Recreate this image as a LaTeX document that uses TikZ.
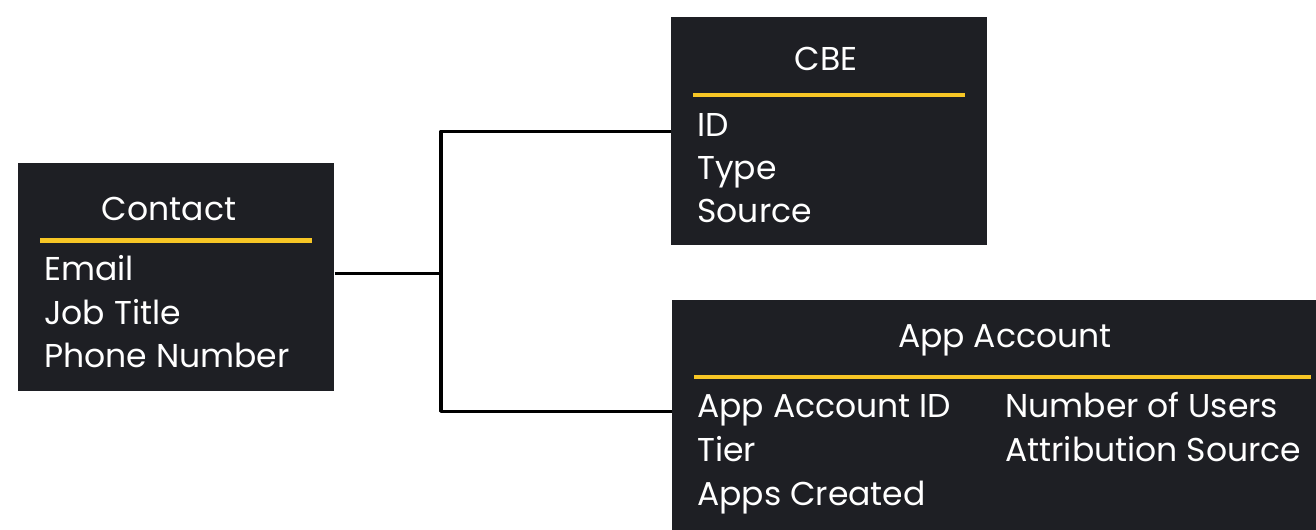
\documentclass[tikz,border=0pt]{standalone}
\usepackage{fontspec}
\setmainfont{Poppins}
\definecolor{boxbg}{HTML}{1E1F24}
\definecolor{barline}{HTML}{F7C625}
\begin{document}
\begin{tikzpicture}[x=0.02cm, y=-0.02cm, line join=round, font=\fontsize{18.8}{22}\selectfont,
	box/.style={fill=boxbg, inner sep=0pt, anchor=north west},
	title/.style={text=white, anchor=base, inner sep=0pt},
	field/.style={text=white, anchor=base west, inner sep=0pt},
	bar/.style={draw=barline, line width=2.3pt},
	link/.style={line width=2pt}]
	\useasboundingbox (0,0) rectangle (1316,530);
	\node[box, minimum width=6.32cm, minimum height=4.56cm] (contact) at (18,163) {};
	\node[box, minimum width=6.32cm, minimum height=4.56cm] (cbe) at (671,17) {};
	\node[box, minimum width=12.88cm, minimum height=4.6cm] (app) at (672,300) {};
	\coordinate (hub) at (441,273);
	\draw[link] ([yshift=0.08cm]contact.east) -- ([yshift=0.08cm]contact.east -| hub);
	\draw[link] (cbe.west) -| (hub) |- ([yshift=0.08cm]app.west);
	\node[title] (contacttitle) at (169,221) {Contact};
	\node[title] (cbetitle) at (826,71) {CBE};
	\node[title] (apptitle) at (1005,348) {App Account};
	\draw[bar] (40,240.5) -- (312,240.5) (693,95) -- (965,95) (694,377) -- (1311,377);
	\foreach \t/\x/\y/\n in {Email/44/281/email, Job Title/44/325/job, Phone Number/44/368/phone,
		ID/697/137/id, Type/697/180/type, Source/697/223/source,
		App Account ID/697/418/appid, Tier/697/461/tier, Apps Created/697/505/apps,
		Number of Users/1005/418/users, Attribution Source/1005/461/attr}{
		\node[field] (\n) at (\x,\y) {\t};
	}
\end{tikzpicture}
\end{document}
